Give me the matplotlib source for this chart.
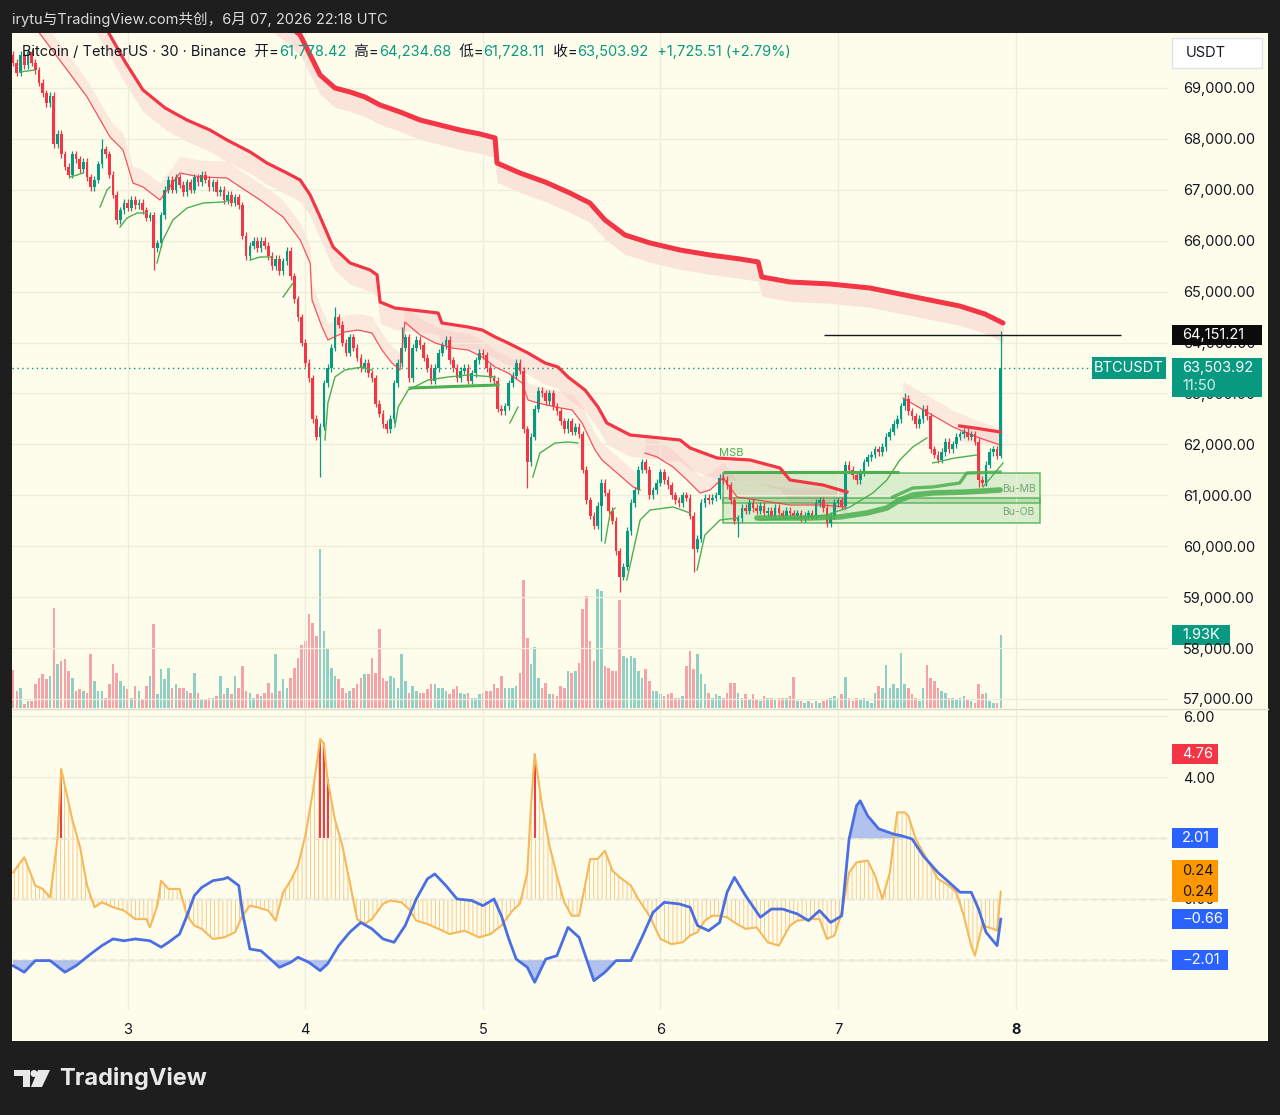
import numpy as np
import matplotlib.pyplot as plt
from matplotlib import transforms
from matplotlib.patches import Rectangle, Polygon, Ellipse

plt.rcParams['font.family'] = ['Inter', 'Noto Sans CJK SC', 'DejaVu Sans']
plt.rcParams['hatch.linewidth'] = 0.6

# ---------------- data (30 min candles, x = candle index) ----------------
first_open = 69650
closes = [
    69500, 69300, 69650, 69450, 69700, 69500, 69350, 69100, 68900, 68700, 68850, 67900,
    68100, 67700, 67450, 67300, 67700, 67600, 67400, 67550, 67250, 67050, 67200, 67500,
    67800, 67700, 67300, 66900, 66400, 66600, 66750, 66650, 66800, 66700, 66750, 66600,
    66450, 66500, 65850, 65950, 66500, 67000, 67200, 67000, 67250, 67100, 66950, 67150,
    67000, 67250, 67150, 67300, 67200, 67050, 67150, 66950, 67000, 66800, 66900, 66750,
    66850, 66700, 66100, 65700, 65900, 66000, 65850, 66000, 65900, 65700, 65500, 65650,
    65400, 65600, 65800, 65300, 64850, 64500, 64000, 63600, 63300, 62500, 62150, 62350,
    63200, 63500, 63900, 64500, 64350, 64000, 63800, 64100, 63900, 63700, 63500, 63600,
    63400, 63300, 62800, 62600, 62400, 62300, 62500, 63200, 63600, 63900, 64100, 63300,
    63900, 64050, 63950, 63700, 63500, 63250, 63500, 63800, 63950, 64050, 63650, 63500,
    63300, 63450, 63500, 63250, 63400, 63650, 63800, 63750, 63500, 63300, 63250, 62700,
    62650, 62750, 63200, 63350, 63600, 63450, 62300, 61650, 62150, 62700, 63050, 63000,
    62850, 63000, 62750, 62650, 62450, 62300, 62450, 62250, 62350, 62200, 61500, 60900,
    60600, 60400, 60800, 61250, 61050, 60700, 60500, 59900, 59400, 59600, 60300, 60850,
    61100, 61500, 61650, 61500, 61000, 61100, 61250, 61450, 61300, 61200, 61000, 60900,
    60850, 61000, 60950, 60600, 59950, 60150, 60850, 60950, 60900, 60950, 61000, 61350,
    61300, 61200, 60900, 60500, 60550, 60750, 60700, 60850, 60750, 60700, 60800, 60650,
    60700, 60600, 60750, 60650, 60600, 60700, 60650, 60600, 60650, 60550, 60600, 60650,
    60600, 60850, 60900, 60750, 60450, 60600, 60850, 60900, 60800, 61600, 61500, 61400,
    61300, 61450, 61650, 61750, 61800, 61900, 61850, 61950, 62150, 62250, 62400, 62500,
    62750, 62900, 62650, 62550, 62400, 62500, 62700, 62550, 61900, 61800, 61700, 61850,
    62050, 61900, 62000, 62150, 62200, 62250, 62150, 62200, 62050, 61300, 61250, 61600,
    61850, 61900, 61778.42, 63503.92,
]
wick = 70
low_wicks = {38: 65430, 83: 61360, 139: 61150, 159: 60100, 164: 59100, 184: 59500,
             196: 60180, 261: 61170, 267: 61728.11}
high_wicks = {24: 68000, 87: 64700, 105: 64300, 241: 63000, 267: 64234.68}

volumes = [  # thousands of BTC
    1.0, 0.45, 0.54, 0.1, 0.19, 0.19, 0.63, 0.8, 0.89, 0.76, 0.85, 2.65,
    1.16, 1.24, 1.29, 0.98, 0.8, 0.45, 0.49, 0.45, 0.41, 1.44, 0.71, 0.45,
    0.45, 0.27, 0.63, 1.16, 0.93, 0.71, 0.58, 0.49, 0.27, 0.58, 0.45, 0.23,
    0.58, 0.85, 2.23, 0.36, 1.02, 0.76, 1.07, 0.54, 0.63, 0.54, 0.54, 0.45,
    0.41, 0.93, 0.41, 0.23, 0.23, 0.27, 0.27, 0.32, 0.85, 0.36, 0.54, 0.36,
    0.85, 0.54, 1.11, 0.45, 0.41, 0.27, 0.36, 0.32, 0.41, 0.67, 0.41, 1.42,
    0.45, 0.76, 0.54, 0.8, 1.07, 1.33, 1.68, 1.77, 2.48, 2.26, 1.9, 4.22,
    2.04, 1.6, 1.07, 0.85, 0.76, 0.54, 0.41, 0.45, 0.54, 0.63, 0.8, 0.89,
    0.89, 1.33, 0.93, 2.08, 0.8, 0.71, 0.85, 0.8, 0.54, 1.42, 0.71, 0.41,
    0.58, 0.45, 0.41, 0.41, 0.49, 0.63, 0.63, 0.54, 0.54, 0.45, 0.36, 0.49,
    0.58, 0.41, 0.36, 0.41, 0.27, 0.27, 0.36, 0.41, 0.45, 0.45, 0.63, 0.54,
    0.85, 0.54, 0.54, 0.54, 0.58, 0.93, 3.38, 1.86, 1.16, 1.61, 0.8, 0.54,
    0.67, 0.36, 0.36, 0.32, 0.58, 0.54, 0.98, 0.93, 0.98, 1.2, 2.61, 2.96,
    1.77, 1.24, 3.14, 3.1, 1.11, 1.07, 0.98, 0.98, 2.85, 1.38, 1.33, 1.38,
    1.33, 0.98, 0.8, 1.02, 0.71, 0.45, 0.45, 0.36, 0.32, 0.36, 0.41, 0.27,
    0.27, 0.32, 1.11, 1.51, 1.02, 1.42, 0.89, 0.63, 0.41, 0.27, 0.36, 0.32,
    0.27, 0.41, 0.67, 0.67, 0.41, 0.27, 0.36, 0.23, 0.36, 0.23, 0.19, 0.32,
    0.27, 0.27, 0.23, 0.27, 0.27, 0.27, 0.32, 0.82, 0.19, 0.19, 0.14, 0.19,
    0.14, 0.19, 0.14, 0.19, 0.23, 0.27, 0.32, 0.27, 0.36, 0.82, 0.27, 0.19,
    0.27, 0.23, 0.27, 0.19, 0.14, 0.41, 0.58, 0.54, 1.14, 0.54, 0.63, 0.54,
    1.46, 0.63, 0.54, 0.36, 0.27, 0.19, 0.54, 1.14, 0.8, 0.71, 0.54, 0.45,
    0.41, 0.27, 0.27, 0.23, 0.27, 0.32, 0.23, 0.19, 0.14, 0.64, 0.36, 0.41,
    0.19, 0.14, 0.14, 1.93,
]

day_ticks = [31, 79, 127, 175, 223, 271]
day_labels = ['3', '4', '5', '6', '7', '8']
price_ticks = list(range(57000, 70000, 1000))

# trailing bands (candle index, price)
band_slow = [(69.5, 70532), (77.6, 70041), (80.3, 69648), (83.0, 69255), (87.0, 69000),
             (91.1, 68921), (95.1, 68823), (99.2, 68666), (104.6, 68529), (110.0, 68371),
             (115.4, 68273), (120.8, 68175), (126.2, 68097), (130.3, 68018), (130.8, 67527),
             (137.0, 67331), (143.8, 67154), (150.5, 66938), (155.9, 66742), (160.0, 66408),
             (165.4, 66113), (172.2, 65956), (180.3, 65818), (188.4, 65720), (196.5, 65642),
             (201.4, 65583), (202.4, 65288), (210.0, 65190), (220.8, 65151), (231.6, 65072),
             (239.7, 64954), (247.8, 64836), (255.9, 64718), (262.7, 64561), (267.6, 64384)]
band_mid = [(22.2, 70532), (25.4, 70139), (30.3, 69511), (35.1, 68961), (41.1, 68607),
            (47.0, 68371), (53.2, 68175), (57.8, 67979), (64.1, 67743), (68.6, 67527),
            (73.5, 67350), (77.6, 67193), (80.3, 66899), (83.0, 66466), (86.5, 65877),
            (91.1, 65563), (96.5, 65426), (98.4, 65327), (99.2, 64797), (103.2, 64679),
            (114.9, 64581), (115.9, 64385), (123.0, 64306), (126.8, 64247), (130.3, 64110),
            (133.8, 63992), (139.2, 63795), (143.8, 63599), (147.3, 63520), (150.0, 63324),
            (154.6, 63069), (158.1, 62735), (160.5, 62421), (166.8, 62185), (180.3, 62087),
            (183.0, 61930), (190.3, 61733), (199.2, 61694), (207.3, 61537), (210.0, 61301),
            (218.9, 61203), (225.4, 61066)]
band_mid_new = [(255.9, 62362), (260.0, 62322), (266.8, 62244)]
band_fast_1 = [(6.5, 70139), (14.6, 69354), (20.0, 68823), (26.2, 68038), (29.7, 67782),
               (32.4, 67134), (35.1, 67056), (39.7, 66800), (45.1, 67331), (50.5, 67252),
               (57.8, 67232), (61.4, 67056), (66.8, 66800), (73.0, 66466), (77.6, 66015),
               (80.3, 65563), (80.8, 64836), (83.5, 64306), (85.1, 64051), (89.7, 64208),
               (93.2, 64247), (97.0, 64188), (99.7, 63854), (102.4, 63599), (104.6, 63462),
               (105.9, 64404), (110.0, 64149), (114.1, 63992), (118.6, 63894), (123.0, 63854),
               (126.8, 63717), (130.3, 63520), (133.8, 63403), (137.6, 63206), (139.2, 62872),
               (141.9, 62813), (146.5, 62735), (151.1, 62676), (153.8, 62421), (157.3, 61890),
               (159.2, 61694), (167.6, 61164), (169.5, 61105)]
band_fast_2 = [(170.8, 61831), (174.1, 61753), (178.4, 61556), (182.2, 61301), (185.7, 61046),
               (188.4, 61105), (191.9, 61340), (195.7, 60967), (201.1, 60908), (210.0, 60810),
               (218.9, 60810), (224.9, 60771)]
band_fast_3 = [(240.5, 62912), (247.0, 62637), (254.1, 62342), (260.5, 62146), (266.8, 61989)]

support_lines = [
    [(1.9, 69314), (5.9, 69354)],
    [(15.4, 67252), (17.3, 67291), (18.9, 67331)],
    [(23.5, 66663), (25.4, 66997), (26.2, 67056)],
    [(28.9, 66270), (30.8, 66447), (33.5, 66545), (36.2, 66545)],
    [(38.9, 65563), (40.5, 66015), (43.2, 66408), (47.0, 66643), (51.4, 66741), (56.8, 66761), (58.6, 66800)],
    [(64.1, 65622), (66.8, 65681), (69.5, 65681)],
    [(73.0, 64895), (74.9, 65092), (75.7, 65170)],
    [(84.3, 62087), (85.1, 62813), (87.0, 63324), (89.7, 63462), (94.3, 63520), (97.0, 63462)],
    [(103.2, 62342), (104.1, 62735), (106.8, 63069), (112.2, 63265), (117.6, 63324), (123.0, 63363), (130.3, 63324)],
    [(134.3, 62421), (136.5, 62735)],
    [(140.5, 61360), (142.4, 61831), (146.5, 62028), (150.0, 62047), (152.7, 62028)],
    [(160.0, 60064), (161.4, 60653), (162.7, 60751)],
    [(165.9, 59337), (169.5, 60515), (172.2, 60712), (178.4, 60771), (183.0, 60653)],
    [(184.9, 59534), (187.0, 60221), (191.1, 60515), (195.7, 60555)],
    [(201.9, 60515), (212.7, 60555), (220.0, 60614), (226.2, 60771), (232.4, 61046), (236.2, 61301),
     (239.7, 61694), (243.2, 61949), (247.0, 62126)],
    [(248.6, 61635), (254.6, 61733), (260.5, 61792)],
    [(262.2, 61164), (264.9, 61399), (267.6, 61635)],
]
swing_level = [(107.3, 63108), (131.1, 63167)]
bu_curve = [(201.1, 60555), (215.4, 60555), (223.5, 60575), (230.8, 60653), (236.2, 60751),
            (239.7, 60908), (243.2, 61007), (248.6, 61046), (257.8, 61066), (266.8, 61105)]
bu_curve_upper = [(237.8, 60967), (243.2, 61144), (248.6, 61164), (255.9, 61242),
                  (257.8, 61439), (266.8, 61458)]
msb_level = (191.9, 239.5, 61460)
bu_mb_box = (191.9, 277.6, 60849, 61439)
bu_ob_box = (191.9, 277.6, 60457, 60948)
high_ray = (219.2, 299.5, 64151.21)
last_price = 63503.92

# oscillator (candle index, value)
osc_orange = [(0, 0.87), (3, 1.37), (6, 0.44), (8, 0.33), (10, 0.05), (12, 1.97), (13, 4.26),
              (16, 2.6), (18, 1.75), (20, 0.44), (22, -0.27), (24, -0.11), (27, -0.27), (30, -0.38),
              (33, -0.66), (36, -0.66), (37, -0.93), (39, -0.22), (40, 0.6), (42, 0.33), (45, 0.33),
              (47, -0.55), (49, -0.87), (51, -0.98), (54, -1.31), (57, -1.26), (60, -1.09),
              (62, -0.55), (64, -0.22), (66, -0.27), (69, -0.38), (71, -0.71), (73, 0.22), (75, 0.6),
              (77, 1.09), (79, 2.08), (81, 3.5), (83, 5.25), (84, 5.1), (85, 3.93), (87, 2.6),
              (89, 1.75), (91, 0.55), (93, -0.66), (95, -0.82), (97, -0.66), (100, -0.16),
              (102, -0.05), (105, -0.11), (107, -0.33), (109, -0.71), (112, -0.82), (115, -0.98),
              (118, -1.15), (122, -1.04), (126, -1.26), (129, -1.15), (132, -0.87), (135, -0.38),
              (137, -0.16), (139, 0.87), (140, 3.06), (141, 4.75), (143, 3.06), (145, 1.75),
              (147, 0.77), (149, -0.11), (151, -0.55), (153, -0.55), (156, 1.31), (158, 1.31),
              (160, 1.58), (162, 0.93), (164, 0.71), (167, 0.44), (169, 0.0), (172, -0.55),
              (175, -1.31), (178, -1.48), (181, -1.42), (183, -1.2), (185, -1.09), (187, -0.71),
              (189, -0.55), (191, -0.55), (193, -0.6), (195, -0.77), (198, -0.98), (201, -0.93),
              (204, -1.42), (207, -1.53), (210, -0.87), (212, -0.71), (215, -0.66), (218, -0.66),
              (220, -1.31), (222, -1.2), (224, -0.44), (226, 0.87), (228, 1.2), (231, 1.26),
              (233, 0.77), (235, 0.0), (237, 0.87), (239, 2.84), (241, 2.84), (242, 2.73),
              (244, 1.97), (247, 1.31), (250, 0.66), (253, 0.44), (255, 0.22), (257, -0.55),
              (259, -1.53), (260, -1.86), (262, -0.87), (265, -0.98), (266, -1.04), (267, 0.24)]
osc_blue = [(0, -2.19), (3, -2.4), (6, -2.02), (10, -2.02), (14, -2.4), (17, -2.19), (21, -1.8),
            (24, -1.53), (27, -1.31), (30, -1.37), (33, -1.31), (37, -1.37), (40, -1.58),
            (42, -1.42), (45, -1.15), (47, -0.55), (49, 0.11), (51, 0.38), (54, 0.6), (57, 0.66),
            (58, 0.71), (61, 0.44), (62, -0.44), (64, -1.64), (67, -1.7), (70, -2.02), (72, -2.24),
            (75, -2.08), (77, -1.91), (80, -2.08), (83, -2.35), (85, -2.13), (88, -1.53),
            (91, -1.09), (94, -0.77), (97, -0.98), (100, -1.31), (103, -1.42), (106, -0.87),
            (109, 0.0), (112, 0.66), (114, 0.82), (117, 0.44), (120, 0.0), (124, -0.05),
            (127, -0.22), (130, 0.0), (132, -0.55), (134, -1.31), (136, -1.97), (139, -2.24),
            (141, -2.73), (144, -1.97), (147, -1.86), (150, -0.93), (153, -1.26), (155, -1.97),
            (157, -2.68), (160, -2.4), (163, -2.02), (167, -2.02), (170, -1.26), (173, -0.44),
            (176, -0.11), (180, -0.16), (183, -0.27), (185, -0.87), (188, -1.04), (191, -0.77),
            (193, 0.22), (195, 0.71), (198, 0.11), (202, -0.6), (205, -0.33), (208, -0.33),
            (212, -0.49), (215, -0.71), (218, -0.38), (221, -0.77), (224, -0.55), (226, 1.97),
            (228, 3.06), (229, 3.22), (231, 2.73), (234, 2.3), (238, 2.13), (240, 2.08),
            (243, 1.97), (246, 1.42), (250, 0.87), (253, 0.55), (256, 0.22), (259, 0.22),
            (261, -0.33), (263, -1.09), (266, -1.53), (267, -0.66)]
osc_level = 2.01
osc_ticks = [6, 4, 2, 0, -2]
osc_tick_labels = ['6.00', '4.00', '', '0.00', '']   # 2.00 / -2.00 sit under the level tags

# ---------------- style ----------------
W, H = 1280, 1115
BG = '#1e1e1e'
CREAM = '#fefdec'
UP = '#089981'
DOWN = '#f23645'
TXT = '#131722'
GREEN = '#4caf50'
ORANGE = '#f7b85a'
BLUE = '#4a6fe3'
TAGBLUE = '#2962ff'


def fx(px):
    return px / W


def fy(py):
    return 1 - py / H


fig = plt.figure(figsize=(12.8, 11.15), dpi=100)
fig.patch.set_facecolor(BG)
fig.patches.append(Rectangle((fx(12), fy(1041)), 1256 / W, 1008 / H, transform=fig.transFigure,
                             facecolor=CREAM, edgecolor='none', zorder=-10))

ax = fig.add_axes([fx(12), fy(708), 1156 / W, 675 / H])
osc = fig.add_axes([fx(12), fy(1010), 1156 / W, 301 / H], sharex=ax)
vax = ax.twinx()
vax.set_zorder(1)
ax.set_zorder(2)
osc.set_zorder(1)
for a in (ax, osc, vax):
    a.patch.set_visible(False)
    for s in a.spines.values():
        s.set_visible(False)

ax.set_xlim(-0.3, 312.2)
ax.set_ylim(56823, 70080)
vax.set_ylim(0, 17.86)
vax.set_yticks([])
osc.set_ylim(-3.64, 6.23)
PANE_PX = {ax: 675, vax: 675, osc: 301}

# grid and ticks
ax.set_xticks(day_ticks)
ax.tick_params(axis='x', length=0, labelbottom=False)
ax.yaxis.tick_right()
ax.set_yticks(price_ticks)
ax.set_yticklabels([f'{p:,.2f}' for p in price_ticks])
ax.tick_params(axis='y', length=0, pad=11, labelsize=10.5, labelcolor=TXT)
ax.grid(True, color='#eeecdb', lw=0.9, zorder=0)

osc.yaxis.tick_right()
osc.set_yticks(osc_ticks)
osc.set_yticklabels(osc_tick_labels)
osc.tick_params(axis='y', length=0, pad=11, labelsize=10.5, labelcolor=TXT)
osc.set_xticks(day_ticks)
osc.set_xticklabels(day_labels)
osc.tick_params(axis='x', length=0, pad=9, labelsize=10.5, labelcolor=TXT)
osc.get_xticklabels()[-1].set_fontweight('bold')
osc.grid(True, color='#eeecdb', lw=0.9, zorder=0)

# ---------------- price pane ----------------
c = np.array(closes, dtype=float)
o = np.r_[first_open, c[:-1]]
idx = np.arange(len(c))
hi = np.maximum(o, c) + wick
lo = np.minimum(o, c) - wick
for k, v in low_wicks.items():
    lo[k] = v
for k, v in high_wicks.items():
    hi[k] = v
up = c >= o
cols = np.where(up, UP, DOWN)

vax.bar(idx, volumes, width=0.7, color=np.where(up, '#8fcfc4', '#f5a3a8'), lw=0)


def arr(pts):
    a = np.array(pts, dtype=float)
    return a[:, 0], a[:, 1]


# pink bands
for pts, w, al in [(band_slow, 380, 0.45), (band_mid, 420, 0.4), (band_mid_new, 300, 0.35)]:
    xs, ys = arr(pts)
    ax.fill_between(xs, ys - w, ys, color='#f7c4c4', alpha=al, lw=0, zorder=1)
for pts in (band_fast_1, band_fast_2, band_fast_3):
    xs, ys = arr(pts)
    ax.fill_between(xs, ys, ys + 330, color='#f7c4c4', alpha=0.35, lw=0, zorder=1)

# green boxes
for x0, x1, y0, y1 in (bu_mb_box, bu_ob_box):
    ax.add_patch(Rectangle((x0, y0), x1 - x0, y1 - y0, facecolor=GREEN, alpha=0.2,
                           edgecolor='none', zorder=1.5))
    ax.add_patch(Rectangle((x0, y0), x1 - x0, y1 - y0, facecolor='none',
                           edgecolor=GREEN, lw=1.1, alpha=0.85, zorder=1.6))

# candles
ax.vlines(idx, lo, hi, colors=cols, lw=0.9, zorder=3)
ax.bar(idx, c - o, bottom=o, width=0.72, color=cols, lw=0, zorder=3.1)

# band lines
xs, ys = arr(band_slow)
ax.plot(xs, ys, color=DOWN, lw=3.6, solid_capstyle='round', zorder=4)
for pts in (band_mid, band_mid_new):
    xs, ys = arr(pts)
    ax.plot(xs, ys, color=DOWN, lw=2.3, zorder=4)
for pts in (band_fast_1, band_fast_2, band_fast_3):
    xs, ys = arr(pts)
    ax.plot(xs, ys, color=DOWN, lw=0.9, alpha=0.85, zorder=4)

for pts in support_lines:
    xs, ys = arr(pts)
    ax.plot(xs, ys, color=GREEN, lw=1.0, zorder=3.5)
xs, ys = arr(swing_level)
ax.plot(xs, ys, color=GREEN, lw=2.2, zorder=3.5)
xs, ys = arr(bu_curve)
ax.plot(xs, ys, color=GREEN, lw=4, alpha=0.85, solid_capstyle='round', zorder=3.5)
xs, ys = arr(bu_curve_upper)
ax.plot(xs, ys, color=GREEN, lw=2.4, alpha=0.85, zorder=3.5)
ax.hlines(msb_level[2], msb_level[0], msb_level[1], color=GREEN, lw=2.2, zorder=3.5)

ax.text(190.8, 61831, 'MSB', color=GREEN, fontsize=8, ha='left', va='center', zorder=5)
ax.text(267.4, 61130, 'Bu-MB', color='#78a878', fontsize=7.5, ha='left', va='center', zorder=5)
ax.text(267.4, 60680, 'Bu-OB', color='#78a878', fontsize=7.5, ha='left', va='center', zorder=5)

ax.hlines(high_ray[2], high_ray[0], high_ray[1], color=TXT, lw=1, zorder=5)
ax.axhline(last_price, color=UP, lw=1, ls=(0, (1, 2.5)), zorder=2)

# ---------------- oscillator pane ----------------
ox, oy = arr(osc_orange)
osc.fill_between(ox, 0, oy, facecolor='none', edgecolor='#f6c47e', hatch='||||', lw=0, zorder=1)
for k, v in osc_orange:
    if v > 3.5:
        osc.vlines(k, osc_level, v, color=DOWN, lw=1.4, zorder=2)
osc.plot(ox, oy, color=ORANGE, lw=1.5, zorder=3)

bx, by = arr(osc_blue)
osc.fill_between(bx, by, -osc_level, where=by < -osc_level, interpolate=True,
                 color='#7f9cf0', alpha=0.6, lw=0, zorder=2)
osc.fill_between(bx, by, osc_level, where=by > osc_level, interpolate=True,
                 color='#7f9cf0', alpha=0.6, lw=0, zorder=2)
osc.plot(bx, by, color=BLUE, lw=2, zorder=4)
for lv in (osc_level, 0, -osc_level):
    osc.axhline(lv, color='#a9a9a0', lw=1, ls=(0, (4, 3)), zorder=1.5)


# ---------------- axis tags ----------------
def tag(axis, y, text, fc, x0, x1, h=20, tc='white', tx=1182, ha='left', box_y=None):
    lo_, hi_ = axis.get_ylim()
    per_px = (hi_ - lo_) / PANE_PX[axis]
    by_ = y if box_y is None else box_y
    tr = transforms.blended_transform_factory(fig.transFigure, axis.transData)
    axis.add_patch(Rectangle((fx(x0), by_ - h / 2 * per_px), (x1 - x0) / W, h * per_px,
                             transform=tr, facecolor=fc, edgecolor='none', clip_on=False,
                             zorder=9))
    axis.text(fx(tx), y, text, transform=tr, ha=ha, va='center', fontsize=10.5, color=tc,
              clip_on=False, zorder=10)
    return tr


tag(ax, 64151.21, '64,151.21', '#0b0b0b', 1172, 1262)
tr_p = tag(ax, last_price, '63,503.92', UP, 1172, 1262, h=39, box_y=63313)
ax.text(fx(1182), 63147, '11:50', color='#d6efe9', fontsize=10.5, va='center', clip_on=False,
        zorder=10, transform=tr_p)
tag(ax, last_price, 'BTCUSDT', UP, 1092, 1166, h=22, tx=1129, ha='center')
tag(vax, volumes[-1], '1.93K', UP, 1172, 1230)
tag(osc, 4.76, '4.76', DOWN, 1172, 1218)
tag(osc, 2.01, '2.01', TAGBLUE, 1172, 1218)
tag(osc, 0.93, '0.24', '#ff9800', 1172, 1218, h=21, tc=TXT)
tag(osc, 0.24, '0.24', '#ff9800', 1172, 1218, h=21, tc=TXT)
tag(osc, -0.66, '\u22120.66', TAGBLUE, 1172, 1228)
tag(osc, -2.01, '\u22122.01', TAGBLUE, 1172, 1228)

fig.patches.append(Rectangle((fx(1172), fy(68)), 90 / W, 30 / H, transform=fig.transFigure,
                             facecolor='white', edgecolor='#e0e3eb', lw=1, zorder=5))
fig.text(fx(1186), fy(53), 'USDT', color=TXT, fontsize=10.5, va='center', zorder=6)

# separator between panes
fig.add_artist(plt.Line2D([fx(12), fx(1268)], [fy(708.5), fy(708.5)], color='#dcdacb', lw=1,
                          transform=fig.transFigure))

# ---------------- header ----------------
fig.text(fx(12), fy(19), 'irytu与TradingView.com共创，6月 07, 2026 22:18 UTC',
         color='#dadada', fontsize=10.5, va='center')

segs = [('Bitcoin / TetherUS · 30 · Binance  开=', TXT), ('61,778.42', UP),
        ('  高=', TXT), ('64,234.68', UP), ('  低=', TXT), ('61,728.11', UP),
        ('  收=', TXT), ('63,503.92', UP), ('  +1,725.51 (+2.79%)', UP)]
prev = ax.annotate(segs[0][0], xy=(fx(22), fy(52)), xycoords='figure fraction', color=segs[0][1],
                   fontsize=10.5, va='center', ha='left', annotation_clip=False, zorder=6)
for s, col in segs[1:]:
    prev = ax.annotate(s, xy=(1, 0), xycoords=prev, color=col, fontsize=10.5,
                       va='bottom', ha='left', annotation_clip=False, zorder=6)

# ---------------- logo ----------------
logo_t = [(14, 1070), (30, 1070), (30, 1087), (23, 1087), (23, 1076), (14, 1076)]
logo_s = [(38, 1070), (50, 1070), (42, 1087), (31, 1087)]
for pts in (logo_t, logo_s):
    fig.patches.append(Polygon([(fx(a), fy(b)) for a, b in pts], closed=True,
                               transform=fig.transFigure, facecolor='#e8e8e8', edgecolor='none'))
fig.patches.append(Ellipse((fx(34), fy(1073.5)), 7 / W, 7 / H, transform=fig.transFigure,
                           facecolor='#e8e8e8', edgecolor='none'))
fig.text(fx(59), fy(1078), 'TradingView', color='#e8e8e8', fontsize=17, fontweight='bold',
         va='center')

fig.savefig('out.png', dpi=100, facecolor=BG)
